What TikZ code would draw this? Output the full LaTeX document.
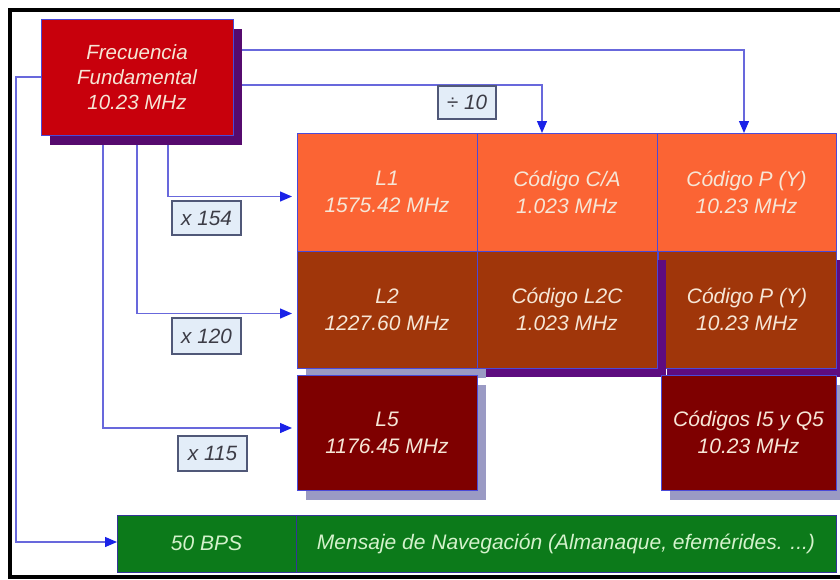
\documentclass[tikz,border=0pt]{standalone}
\usepackage{fontspec}
\setmainfont{Liberation Sans}
\usetikzlibrary{arrows.meta,backgrounds,shadows}
\definecolor{topred}{HTML}{C8000C}
\definecolor{toppurple}{HTML}{560A6E}
\definecolor{orangec}{HTML}{FB6434}
\definecolor{brownc}{HTML}{A0360A}
\definecolor{darkred}{HTML}{7E0000}
\definecolor{greenc}{HTML}{0C7A1A}
\definecolor{shpurple}{HTML}{5E0C80}
\definecolor{shgrey}{HTML}{9A9AC4}
\definecolor{bordblue}{HTML}{4A4AD8}
\definecolor{lineblue}{HTML}{6868DC}
\definecolor{tipblue}{HTML}{1A22E8}
\definecolor{cream}{HTML}{F6E6D6}
\definecolor{greentext}{HTML}{D4F2CC}
\definecolor{multfill}{HTML}{E3EDF8}
\definecolor{multborder}{HTML}{505878}
\definecolor{multtext}{HTML}{3C3C46}
\tikzset{
  box/.style={draw=bordblue, line width=0.8pt, inner sep=0pt, outer sep=0pt,
    align=center, text=cream, font=\fontsize{21}{27}\selectfont\itshape},
  mult/.style={draw=multborder, fill=multfill, line width=1.1pt, inner sep=0pt,
    outer sep=0pt, text=multtext, font=\fontsize{20.7}{24}\selectfont\itshape},
  conn/.style={draw=lineblue, line width=1.3pt},
  arrv/.style={conn, -{Triangle[length=12pt,width=10pt,color=tipblue]}},
  arrh/.style={conn, -{Triangle[length=12pt,width=10pt,color=tipblue]}, shorten >=5pt},
  shp/.style={drop shadow={shadow xshift=9pt, shadow yshift=-9pt, fill=shpurple, opacity=1}},
  shg/.style={drop shadow={shadow xshift=9pt, shadow yshift=-10pt, fill=shgrey, opacity=1}},
}
\begin{document}
\begin{tikzpicture}[x=1pt, y=-1pt]
\useasboundingbox (0,0) rectangle (840,579);

% top box
\node[box, fill=topred, minimum width=192pt, minimum height=116pt,
  font=\fontsize{20.5}{25}\selectfont\itshape,
  drop shadow={shadow xshift=9pt, shadow yshift=-10pt, fill=toppurple, opacity=1}]
  (top) at (137,77) {Frecuencia\\Fundamental\\10.23 MHz};

% orange row
\node[box, fill=orangec, minimum width=179pt, minimum height=118pt] (PYo) at (746.5,192) {Código P (Y)\\10.23 MHz};
\node[box, fill=orangec, minimum width=180pt, minimum height=118pt] (CA) at (567,192) {Código C/A\\1.023 MHz};
\node[box, fill=orangec, minimum width=180pt, minimum height=118pt] (L1) at (387,192) {L1\\1575.42 MHz};

% brown row
\node[box, fill=brownc, minimum width=180pt, minimum height=117pt, shg] (L2) at (387,309.5) {L2\\1227.60 MHz};
\node[box, fill=brownc, minimum width=178pt, minimum height=117pt, shp] (PYb) at (747,309.5) {Código P (Y)\\10.23 MHz};
\node[box, fill=brownc, minimum width=180pt, minimum height=117pt, shp] (L2C) at (567,309.5) {Código L2C\\1.023 MHz};

% third row
\node[box, fill=darkred, minimum width=180pt, minimum height=115pt, shg] (L5) at (387,432.5) {L5\\1176.45 MHz};
\node[box, fill=darkred, minimum width=175pt, minimum height=115pt, shg] (I5) at (748.5,432.5) {Códigos I5 y Q5\\10.23 MHz};

% green bar
\node[box, fill=greenc, text=greentext, draw=bordblue!70!black, minimum width=179pt, minimum height=57pt] (bps) at (206.5,543.5) {50 BPS};
\node[box, fill=greenc, text=greentext, draw=bordblue!70!black, minimum width=540pt, minimum height=57pt] (msg) at (566,543.5) {Mensaje de Navegación (Almanaque, efemérides. ...)};

% multiplier labels
\node[mult, minimum width=58pt, minimum height=33pt] (d10) at (467,102.5) {÷ 10};
\node[mult, minimum width=69pt, minimum height=34pt] (m154) at (206.5,218) {x 154};
\node[mult, minimum width=69pt, minimum height=36pt] (m120) at (206.5,336) {x 120};
\node[mult, minimum width=69pt, minimum height=35pt] (m115) at (212.5,453.5) {x 115};

\coordinate (lc) at (16,77);

\begin{scope}[on background layer]
\draw[arrv] ([yshift=27pt]top.east) -| ([xshift=-2.5pt]PYo.north);
\draw[arrv] ([yshift=-8pt]top.east) -| ([xshift=-25pt]CA.north);
\draw[arrh] ([xshift=31pt]top.south) |- ([yshift=-4.5pt]L1.west);
\draw[arrh] (top.south) |- ([yshift=-4pt]L2.west);
\draw[arrh] ([xshift=-34pt]top.south) |- ([yshift=4.5pt]L5.west);
\draw[arrv] (top.west) -- (lc) |- ([yshift=1.5pt]bps.west);
\end{scope}

% frame
\draw[line width=4pt] (845,9.5) -- (9.5,9.5) -- (9.5,577) -- (845,577);
\end{tikzpicture}
\end{document}
